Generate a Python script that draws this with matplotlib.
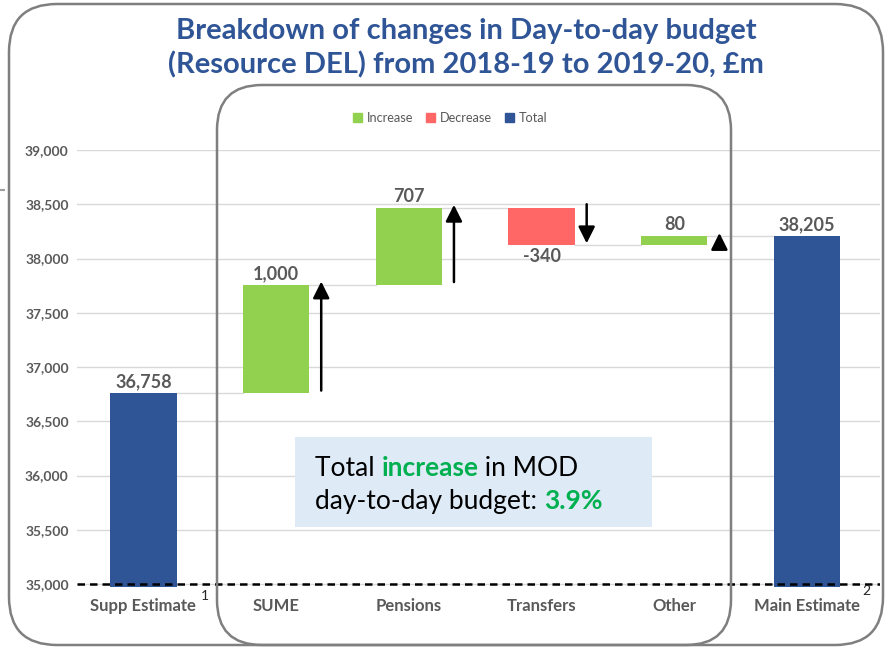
import matplotlib
matplotlib.use("Agg")
import matplotlib.pyplot as plt
from matplotlib.patches import FancyBboxPatch, Patch, Rectangle
from matplotlib.lines import Line2D
from matplotlib.transforms import IdentityTransform

# ---------------- data ----------------
categories = ["Supp Estimate", "SUME", "Pensions", "Transfers", "Other", "Main Estimate"]
start_total = 36758
changes = [1000, 707, -340, 80]
end_total = 38205
y_ticks = [35000, 35500, 36000, 36500, 37000, 37500, 38000, 38500, 39000]
legend_labels = ["Increase", "Decrease", "Total"]
title_lines = ["Breakdown of changes in Day-to-day budget",
               "(Resource DEL) from 2018-19 to 2019-20, \u00a3m"]
callout_line1 = [("Total ", "black", "normal"), ("increase", "#00B050", "bold"), (" in MOD", "black", "normal")]
callout_line2 = [("day-to-day budget: ", "black", "normal"), ("3.9%", "#00B050", "bold")]
footnotes = ["1", "2"]

# ---------------- style ----------------
FONT = ["Lato", "DejaVu Sans"]
plt.rcParams["font.family"] = FONT
GREEN = "#92D050"
RED = "#FF6666"
BLUE = "#2F5597"
GREY = "#595959"
W, H = 885, 650

fig = plt.figure(figsize=(W / 100, H / 100), dpi=100)
ax = fig.add_axes([77 / W, 1 - 587.3 / H, (880 - 77) / W, (587.3 - 150) / H])
ax.set_xlim(-0.5, 5.55)
ax.set_ylim(34970, 39000)

bw = 0.5
x = list(range(len(categories)))

# totals
ax.bar(x[0], start_total, width=bw, color=BLUE, zorder=3)
ax.bar(x[-1], end_total, width=bw, color=BLUE, zorder=3)

levels = [start_total]
for d in changes:
    levels.append(levels[-1] + d)

for i, d in enumerate(changes):
    prev = levels[i]
    cur = levels[i + 1]
    ax.bar(x[i + 1], abs(d), bottom=min(prev, cur), width=bw,
           color=GREEN if d > 0 else RED, zorder=3)

# connectors
for i in range(len(categories) - 1):
    lvl = levels[min(i, len(levels) - 1)]
    ax.plot([x[i] + bw / 2, x[i + 1] - bw / 2], [lvl, lvl], color="#D9D9D9", lw=1, zorder=2)

# data labels
lab_kw = dict(ha="center", fontsize=13, fontweight="bold", color=GREY, zorder=5)
ax.annotate(f"{start_total:,}", (x[0], start_total), xytext=(0, 2), textcoords="offset points", va="bottom", **lab_kw)
ax.annotate(f"{end_total:,}", (x[-1], end_total), xytext=(0, 2), textcoords="offset points", va="bottom", **lab_kw)
for i, d in enumerate(changes):
    top = max(levels[i], levels[i + 1])
    bot = min(levels[i], levels[i + 1])
    if d > 0:
        ax.annotate(f"{d:,}", (x[i + 1], top), xytext=(0, 2), textcoords="offset points", va="bottom", **lab_kw)
    else:
        ax.annotate(f"{d:,}", (x[i + 1], bot), xytext=(0, -2), textcoords="offset points", va="top", **lab_kw)

# arrows
for i, d in enumerate(changes):
    s, e = levels[i], levels[i + 1]
    if d > 0:
        tail, tip = s + 25, e + 30
    else:
        tail, tip = s + 35, e + 15
    xa = x[i + 1] + 0.34
    ax.annotate("", xy=(xa, tip), xytext=(xa, tail),
                arrowprops=dict(arrowstyle="-|>,head_length=0.5,head_width=0.25",
                                mutation_scale=20, color="black", lw=1.8,
                                shrinkA=0, shrinkB=0), zorder=6)

# dashed baseline
ax.axhline(35000, color="black", lw=1.8, ls=(0, (3, 2)), zorder=4)

# axes styling
ax.set_yticks(y_ticks)
ax.set_yticklabels([f"{v:,}" for v in y_ticks], fontweight="bold")
ax.grid(axis="y", color="#D9D9D9", lw=1, zorder=0)
ax.set_axisbelow(True)
ax.set_xticks(x)
ax.set_xticklabels(categories, fontweight="bold")
ax.tick_params(axis="y", length=0, pad=6, labelsize=10, labelcolor=GREY)
ax.tick_params(axis="x", length=0, pad=8, labelsize=12, labelcolor=GREY)
for sp in ax.spines.values():
    sp.set_visible(False)

# legend
handles = [Patch(color=c) for c in (GREEN, RED, BLUE)]
ax.legend(handles, legend_labels, loc="center", bbox_to_anchor=(450 / W, 1 - 118 / H),
          bbox_transform=fig.transFigure, ncol=3, frameon=False, fontsize=9.2,
          handlelength=0.7, handleheight=0.7, handletextpad=0.4, columnspacing=1.0,
          labelcolor=GREY)

# footnote superscripts
fig.text(205 / W, 1 - 596 / H, footnotes[0], fontsize=10, color="#262626", ha="center", va="center")
fig.text(866 / W, 1 - 591 / H, footnotes[1], fontsize=10, color="#262626", ha="center", va="center")

# title
fig.text(466 / W, 1 - 31 / H, title_lines[0], ha="center", va="center", fontsize=21,
         fontweight="bold", color=BLUE)
fig.text(466 / W, 1 - 65 / H, title_lines[1], ha="center", va="center", fontsize=21,
         fontweight="bold", color=BLUE)

# callout box
fig.add_artist(Rectangle((295, H - 527), 357, 90, transform=IdentityTransform(),
                         facecolor="#DEEAF6", edgecolor="none", zorder=3))
renderer = fig.canvas.get_renderer()


def rich_line(x_px, y_px, parts, size=19):
    xx = x_px
    for s, col, wt in parts:
        t = fig.text(xx / W, 1 - y_px / H, s, color=col, fontweight=wt, fontsize=size,
                     ha="left", va="baseline", zorder=4)
        bb = t.get_window_extent(renderer)
        xx += bb.width


rich_line(315, 476, callout_line1)
rich_line(315, 509, callout_line2)

# rounded frames
fig.add_artist(FancyBboxPatch((9, 5), 874, 641, boxstyle="round,pad=0,rounding_size=48",
                              transform=IdentityTransform(), facecolor="none",
                              edgecolor="#7F7F7F", lw=1.8, zorder=5))
fig.add_artist(FancyBboxPatch((217, 5), 514, 560, boxstyle="round,pad=0,rounding_size=45",
                              transform=IdentityTransform(), facecolor="none",
                              edgecolor="#7F7F7F", lw=1.8, zorder=5))
fig.add_artist(Line2D([0, 4], [H - 190, H - 190], transform=IdentityTransform(),
                      color="#A0A0A0", lw=1.5))

fig.savefig("out.png", dpi=100)
